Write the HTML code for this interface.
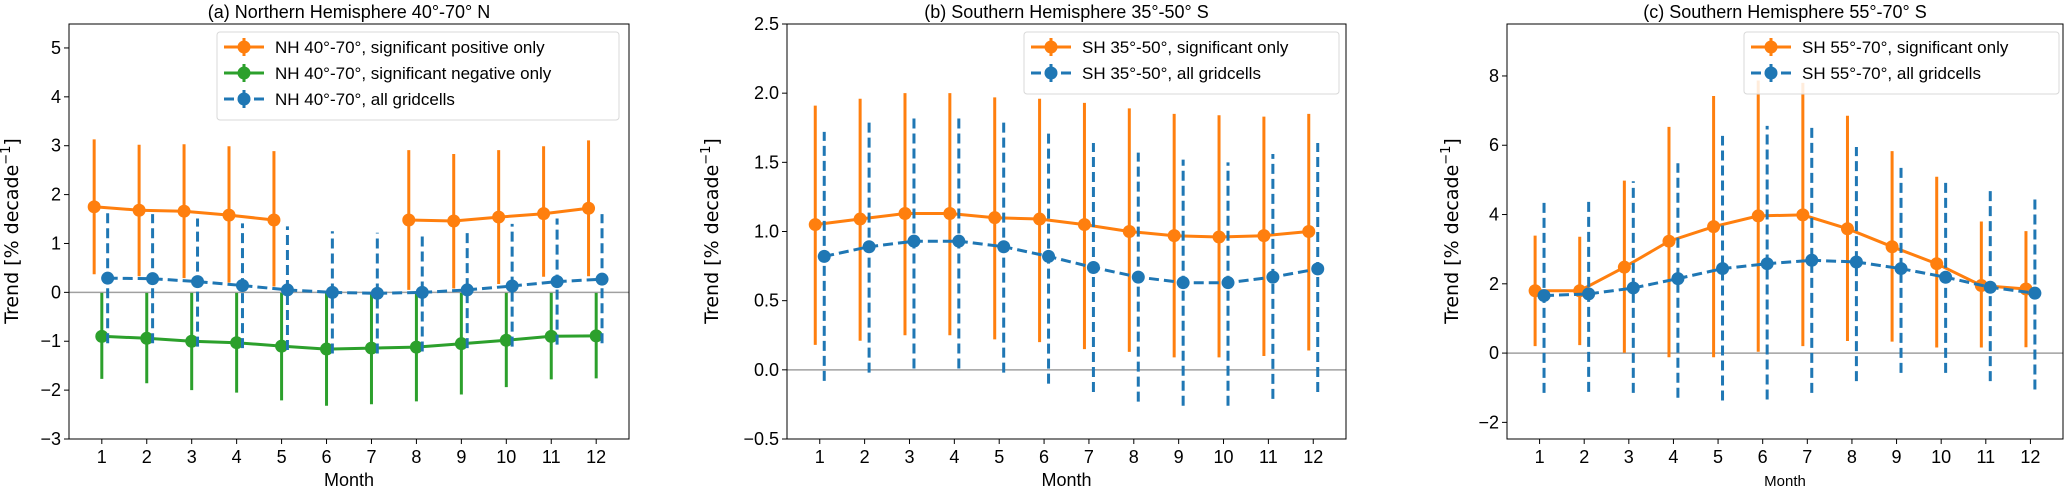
<!DOCTYPE html>
<html><head><meta charset="utf-8"><style>
body{margin:0;background:#fff;}
svg{display:block;font-family:"Liberation Sans","DejaVu Sans",sans-serif;}
</style></head><body>
<svg id="fig" width="2066" height="489" viewBox="0 0 2066 489" xmlns="http://www.w3.org/2000/svg"></svg>
<script>
const months=[1,2,3,4,5,6,7,8,9,10,11,12];
// Panel a
const aPosMean=[1.75,1.68,1.66,1.58,1.48,null,null,1.48,1.46,1.54,1.61,1.72];
const aPosHi=[3.13,3.02,3.03,2.99,2.89,null,null,2.91,2.83,2.91,2.99,3.11];
const aPosLo=[0.37,0.33,0.29,0.2,0.12,null,null,0.05,0.08,0.17,0.32,0.33];
const aNegMean=[-0.9,-0.94,-1.0,-1.03,-1.1,-1.16,-1.14,-1.12,-1.05,-0.98,-0.9,-0.89];
const aNegHi=[-0.01,-0.01,-0.01,-0.01,-0.01,-0.01,-0.01,-0.01,-0.01,-0.01,-0.01,-0.01];
const aNegLo=[-1.77,-1.86,-2.0,-2.05,-2.21,-2.32,-2.29,-2.23,-2.09,-1.94,-1.78,-1.76];
const aAllMean=[0.29,0.28,0.22,0.14,0.05,0.0,-0.02,0.0,0.05,0.13,0.22,0.27];
const aAllHi=[1.65,1.6,1.51,1.41,1.35,1.25,1.22,1.24,1.29,1.4,1.51,1.6];
const aAllLo=[-1.04,-1.04,-1.11,-1.14,-1.18,-1.25,-1.25,-1.21,-1.14,-1.11,-1.07,-1.04];
const aTicks=[-3,-2,-1,0,1,2,3,4,5];
// Panel b
const bSigMean=[1.05,1.09,1.13,1.13,1.10,1.09,1.05,1.0,0.97,0.96,0.97,1.0];
const bSigHi=[1.91,1.96,2.0,2.0,1.97,1.96,1.93,1.89,1.85,1.84,1.83,1.85];
const bSigLo=[0.18,0.21,0.25,0.25,0.22,0.2,0.15,0.13,0.09,0.09,0.1,0.14];
const bAllMean=[0.82,0.89,0.93,0.93,0.89,0.82,0.74,0.67,0.63,0.63,0.67,0.73];
const bAllHi=[1.72,1.8,1.84,1.84,1.8,1.73,1.64,1.57,1.52,1.5,1.56,1.64];
const bAllLo=[-0.08,-0.02,0.01,0.01,-0.02,-0.1,-0.16,-0.23,-0.26,-0.26,-0.21,-0.16];
const bTicks=[-0.5,0.0,0.5,1.0,1.5,2.0,2.5];
const bTickLabels=["\u22120.5","0.0","0.5","1.0","1.5","2.0","2.5"];
// Panel c
const cSigMean=[1.8,1.8,2.48,3.23,3.65,3.96,3.99,3.59,3.07,2.58,1.95,1.85];
const cSigHi=[3.39,3.36,4.98,6.53,7.42,7.87,7.8,6.85,5.83,5.09,3.8,3.52];
const cSigLo=[0.2,0.23,0.01,-0.12,-0.12,0.04,0.2,0.35,0.33,0.16,0.16,0.17];
const cAllMean=[1.66,1.71,1.88,2.15,2.44,2.58,2.68,2.63,2.44,2.19,1.9,1.73];
const cAllHi=[4.45,4.48,4.96,5.48,6.27,6.56,6.51,5.95,5.48,4.96,4.7,4.54];
const cAllLo=[-1.15,-1.12,-1.15,-1.29,-1.37,-1.34,-1.15,-0.81,-0.57,-0.57,-0.81,-1.05];
const cTicks=[-2,0,2,4,6,8];

const NS="http://www.w3.org/2000/svg";
const svg=document.getElementById('fig');
const ORANGE="#ff7f0e",GREEN="#2ca02c",BLUE="#1f77b4";
function mk(tag,attrs,parent){const e=document.createElementNS(NS,tag);for(const k in attrs)e.setAttribute(k,attrs[k]);(parent||svg).appendChild(e);return e;}
function fmt(v){return v<0?"\u2212"+Math.abs(v):String(v);}

function panel(cfg){
  const g=mk('g',{});
  
  
  const L=cfg.x0,R=cfg.x1,T=24,B=439;
  const xs=m=>L+(m-0.27)/(12.73-0.27)*(R-L);
  const ys=v=>B-(v-cfg.ymin)/(cfg.ymax-cfg.ymin)*(B-T);
  const z=mk('line',{x1:L,x2:R,y1:ys(0),y2:ys(0),stroke:"#a0a0a0","stroke-width":1.5},g);
  
  
  cfg.series.forEach(s=>{
    const sg=mk('g',{},g);
    
    
    const dash=s.dashed?"10,5":"none";
    months.forEach((m,i)=>{
      if(s.mean[i]===null)return;
      const x=xs(m+s.off);
      const eb=mk('line',{x1:x,x2:x,y1:ys(s.lo[i]),y2:ys(s.hi[i]),stroke:s.color,"stroke-width":3,"stroke-dasharray":dash},sg);
      
      
    });
    let d="";let pen=false;
    months.forEach((m,i)=>{
      if(s.mean[i]===null){pen=false;return;}
      d+=(pen?"L":"M")+xs(m+s.off).toFixed(1)+" "+ys(s.mean[i]).toFixed(1)+" ";pen=true;
    });
    const ln=mk('path',{d:d,fill:"none",stroke:s.color,"stroke-width":3,"stroke-dasharray":dash},sg);
    
    
    months.forEach((m,i)=>{
      if(s.mean[i]===null)return;
      const c=mk('circle',{cx:xs(m+s.off),cy:ys(s.mean[i]),r:6.5,fill:s.color},sg);
      
      
    });
  });
  const fr=mk('rect',{x:L,y:T,width:R-L,height:B-T,fill:"none",stroke:"#000","stroke-width":1},g);
  
  
  months.forEach(m=>{
    const x=xs(m);
    const t=mk('line',{x1:x,x2:x,y1:B,y2:B+5,stroke:"#000","stroke-width":1},g);
    
    
    const tl=mk('text',{x:x,y:B+24,"text-anchor":"middle","font-size":18},g);
    tl.textContent=m;
    
    
  });
  cfg.ticks.forEach((v,i)=>{
    const y=ys(v);
    const t=mk('line',{x1:L-5,x2:L,y1:y,y2:y,stroke:"#000","stroke-width":1},g);
    
    
    const tl=mk('text',{x:L-8,y:y+6,"text-anchor":"end","font-size":18},g);
    tl.textContent=cfg.labels?cfg.labels[i]:fmt(v);
    
    
  });
  const xt=mk('text',{x:(L+R)/2,y:486,"text-anchor":"middle","font-size":cfg.mfs},g);
  xt.textContent="Month";
  
  
  const yt=mk('text',{x:0,y:0,"text-anchor":"middle","font-size":19,"font-family":"DejaVu Sans, sans-serif",transform:`translate(${cfg.ylx},231) rotate(-90)`},g);
  yt.innerHTML='Trend [% decade<tspan dy="-8" font-size="13">\u22121</tspan><tspan dy="8">]</tspan>';
  
  
  const tt=mk('text',{x:(L+R)/2,y:18,"text-anchor":"middle","font-size":18},g);
  tt.textContent=cfg.title;
  
  
  const lg=mk('g',{},g);
  
  
  const lb=mk('rect',{x:cfg.lx,y:32,width:cfg.lw,height:cfg.series.length*26+10,rx:3,fill:"#fff","fill-opacity":0.85,stroke:"#d8d8d8","stroke-width":1},lg);
  
  
  cfg.series.forEach((s,i)=>{
    const ey=47+i*26;
    const eg=mk('g',{},lg);
    
    
    mk('line',{x1:cfg.lx+7,x2:cfg.lx+47,y1:ey,y2:ey,stroke:s.color,"stroke-width":3,"stroke-dasharray":s.dashed?"10,5":"none"},eg);
    mk('line',{x1:cfg.lx+27,x2:cfg.lx+27,y1:ey-9,y2:ey+9,stroke:s.color,"stroke-width":3},eg);
    mk('circle',{cx:cfg.lx+27,cy:ey,r:6.5,fill:s.color},eg);
    const tx=mk('text',{x:cfg.lx+58,y:ey+6,"font-size":17},eg);
    tx.textContent=s.label;
  });
}

panel({name:'panel-a-northern-hemisphere',x0:69,x1:629,ymin:-3,ymax:5.49,ticks:aTicks,ylx:18,mfs:18,
  title:"(a) Northern Hemisphere 40\u00b0-70\u00b0 N",lx:217,lw:402,
  series:[
    {name:'series-nh-positive',mean:aPosMean,hi:aPosHi,lo:aPosLo,color:ORANGE,off:-0.17,dashed:false,label:"NH 40\u00b0-70\u00b0, significant positive only"},
    {name:'series-nh-negative',mean:aNegMean,hi:aNegHi,lo:aNegLo,color:GREEN,off:0,dashed:false,label:"NH 40\u00b0-70\u00b0, significant negative only"},
    {name:'series-nh-all',mean:aAllMean,hi:aAllHi,lo:aAllLo,color:BLUE,off:0.13,dashed:true,label:"NH 40\u00b0-70\u00b0, all gridcells"}]});
panel({name:'panel-b-southern-35-50',x0:787,x1:1346,ymin:-0.5,ymax:2.5,ticks:bTicks,labels:bTickLabels,ylx:718,mfs:18,
  title:"(b) Southern Hemisphere 35\u00b0-50\u00b0 S",lx:1024,lw:315,
  series:[
    {name:'series-sh35-significant',mean:bSigMean,hi:bSigHi,lo:bSigLo,color:ORANGE,off:-0.1,dashed:false,label:"SH 35\u00b0-50\u00b0, significant only"},
    {name:'series-sh35-all',mean:bAllMean,hi:bAllHi,lo:bAllLo,color:BLUE,off:0.1,dashed:true,label:"SH 35\u00b0-50\u00b0, all gridcells"}]});
panel({name:'panel-c-southern-55-70',x0:1507,x1:2063,ymin:-2.48,ymax:9.5,ticks:cTicks,ylx:1458,mfs:15,
  title:"(c) Southern Hemisphere 55\u00b0-70\u00b0 S",lx:1744,lw:315,
  series:[
    {name:'series-sh55-significant',mean:cSigMean,hi:cSigHi,lo:cSigLo,color:ORANGE,off:-0.1,dashed:false,label:"SH 55\u00b0-70\u00b0, significant only"},
    {name:'series-sh55-all',mean:cAllMean,hi:cAllHi,lo:cAllLo,color:BLUE,off:0.1,dashed:true,label:"SH 55\u00b0-70\u00b0, all gridcells"}]});
</script>
</body></html>
